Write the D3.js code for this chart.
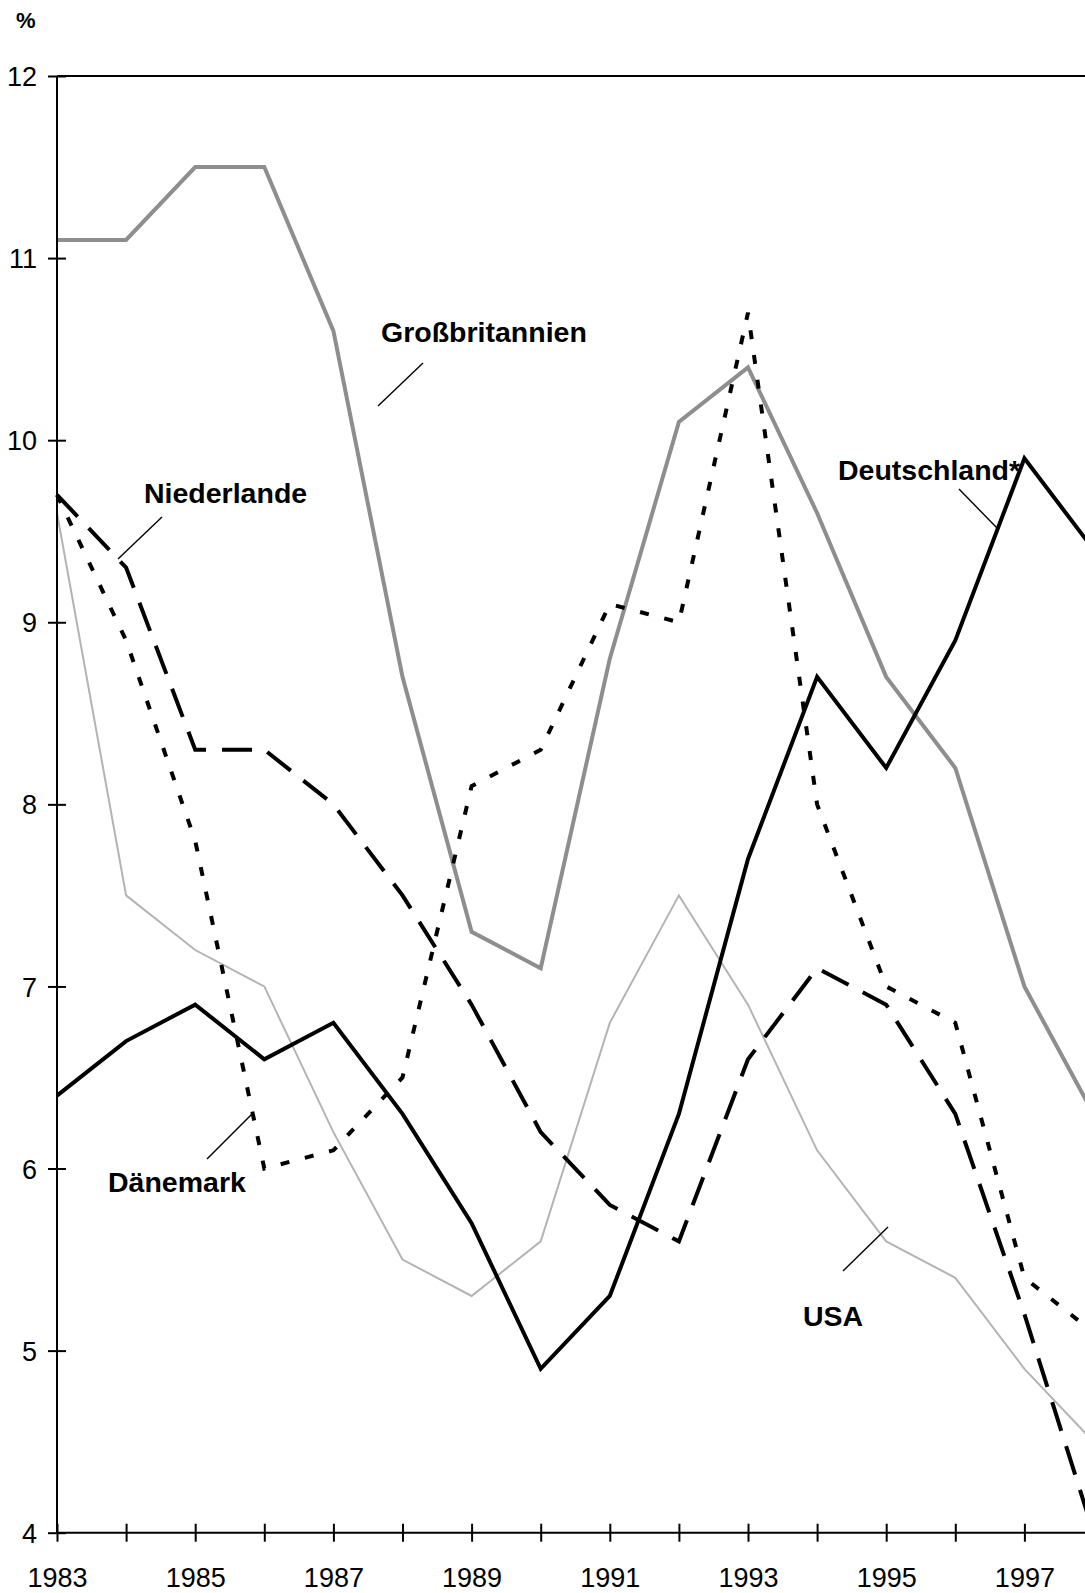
<!DOCTYPE html>
<html>
<head>
<meta charset="utf-8">
<script src="https://cdn.jsdelivr.net/npm/d3@7"></script>
<style>
  html, body { margin: 0; padding: 0; background: #fff; }
  svg { display: block; font-family: Arial, "Liberation Sans", Helvetica, sans-serif; }
</style>
</head>
<body>
<div id="chart"></div>
<script>
// ---- data ----
const years = [1983,1984,1985,1986,1987,1988,1989,1990,1991,1992,1993,1994,1995,1996,1997,1998];
const deutschland    = [6.4,6.7,6.9,6.6,6.8,6.3,5.7,4.9,5.3,6.3,7.7,8.7,8.2,8.9,9.9,9.4];
const grossbritannien= [11.1,11.1,11.5,11.5,10.6,8.7,7.3,7.1,8.8,10.1,10.4,9.6,8.7,8.2,7.0,6.3];
const niederlande    = [9.7,9.3,8.3,8.3,8.0,7.5,6.9,6.2,5.8,5.6,6.6,7.1,6.9,6.3,5.2,4.0];
const daenemark      = [9.7,8.9,7.8,6.0,6.1,6.5,8.1,8.3,9.1,9.0,10.7,8.0,7.0,6.8,5.4,5.1];
const usa            = [9.6,7.5,7.2,7.0,6.2,5.5,5.3,5.6,6.8,7.5,6.9,6.1,5.6,5.4,4.9,4.5];
const seriesNames = ["Großbritannien","USA","Dänemark","Niederlande","Deutschland*"];
const yTickValues = [4,5,6,7,8,9,10,11,12];
const xTickValues = [1983,1984,1985,1986,1987,1988,1989,1990,1991,1992,1993,1994,1995,1996,1997];
const xTickLabels = ["1983","1985","1987","1989","1991","1993","1995","1997"];
const unitLabel = "%";

// ---- layout ----
const W = 1085, H = 1593;
const svg = d3.select("#chart").append("svg").attr("width", W).attr("height", H);

const x = d3.scaleLinear().domain([1983, 1998]).range([57, 1093.5]);
const y = d3.scaleLinear().domain([4, 12]).range([1532.7, 76]);

// series styles
const styles = {
  "Großbritannien": {data: grossbritannien, stroke: "#8e8e8e", width: 4, dash: null},
  "USA":            {data: usa,             stroke: "#b4b4b4", width: 2, dash: null},
  "Dänemark":       {data: daenemark,       stroke: "#000",    width: 4, dash: "9,16"},
  "Niederlande":    {data: niederlande,     stroke: "#000",    width: 4, dash: "30,16"},
  "Deutschland*":   {data: deutschland,     stroke: "#000",    width: 4, dash: null}
};

const line = d3.line().x((d, i) => x(years[i])).y(d => y(d));

// top border
svg.append("line")
  .attr("x1", x(1983)).attr("x2", W + 20)
  .attr("y1", y(12)).attr("y2", y(12))
  .attr("stroke", "#000").attr("stroke-width", 2);

// series lines
seriesNames.forEach(name => {
  const s = styles[name];
  svg.append("path")
    .attr("d", line(s.data))
    .attr("fill", "none")
    .attr("stroke", s.stroke)
    .attr("stroke-width", s.width)
    .attr("stroke-linejoin", "miter")
    .attr("stroke-linecap", "butt")
    .attr("stroke-dasharray", s.dash);
});

// y axis
const yAxis = d3.axisLeft(y).tickValues(yTickValues).tickFormat(d3.format("d")).tickSize(9).tickPadding(12);
const gy = svg.append("g").attr("transform", `translate(${x(1983)},0)`).call(yAxis);
gy.select(".domain").attr("stroke", "#000").attr("stroke-width", 2).attr("d", `M0,${y(12)}V${y(4)}`);
gy.selectAll(".tick line").attr("x1", -9).attr("x2", 9).attr("stroke", "#000").attr("stroke-width", 2);
gy.selectAll(".tick text")
  .attr("x", -20).attr("dy", null).attr("y", 9.6)
  .style("font-size", "27px").attr("fill", "#000")
  .attr("font-family", "Arial, 'Liberation Sans', sans-serif");

// x axis
const xAxis = d3.axisBottom(x).tickValues(xTickValues)
  .tickFormat(d => xTickLabels.includes(String(d)) ? String(d) : "")
  .tickSize(9).tickPadding(0);
const gx = svg.append("g").attr("transform", `translate(0,${y(4)})`).call(xAxis);
gx.select(".domain").attr("stroke", "#000").attr("stroke-width", 2).attr("d", `M${x(1983)},0H${W + 20}`);
gx.selectAll(".tick line").attr("y1", -9).attr("y2", 9).attr("stroke", "#000").attr("stroke-width", 2);
gx.selectAll(".tick text")
  .attr("dy", null).attr("y", 54.5)
  .style("font-size", "27px").attr("fill", "#000")
  .attr("font-family", "Arial, 'Liberation Sans', sans-serif");

// unit label
svg.append("text").attr("x", 16).attr("y", 28)
  .attr("font-size", "22px").attr("font-weight", "bold").text(unitLabel);

// annotations: labels and leader lines
const labels = [
  {name: "Großbritannien", tx: 381, ty: 342, lx1: 423, ly1: 363, lx2: 378, ly2: 406},
  {name: "Niederlande",    tx: 144, ty: 503, lx1: 162, ly1: 517, lx2: 118, ly2: 559},
  {name: "Dänemark",       tx: 108, ty: 1192, lx1: 252, ly1: 1114, lx2: 207, ly2: 1159},
  {name: "USA",            tx: 803, ty: 1326, lx1: 888, ly1: 1227, lx2: 843, ly2: 1271},
  {name: "Deutschland*",   tx: 838, ty: 480, lx1: 959, ly1: 489, lx2: 997, ly2: 528}
];
labels.forEach(l => {
  svg.append("line")
    .attr("x1", l.lx1).attr("y1", l.ly1).attr("x2", l.lx2).attr("y2", l.ly2)
    .attr("stroke", "#000").attr("stroke-width", 1.4);
  svg.append("text")
    .attr("x", l.tx).attr("y", l.ty)
    .attr("font-size", "28.5px").attr("font-weight", "bold").attr("fill", "#000")
    .text(l.name);
});
</script>
</body>
</html>
